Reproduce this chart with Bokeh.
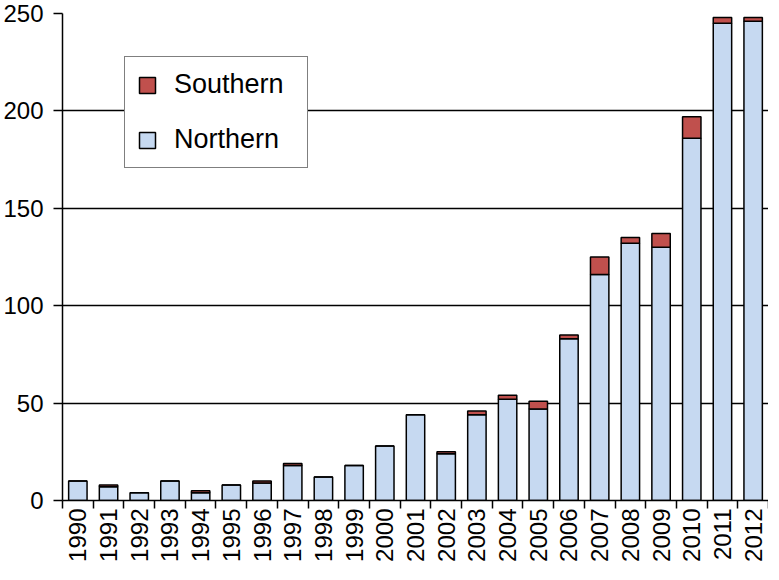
from bokeh.plotting import figure
from bokeh.models import (Range1d, FixedTicker, Legend, LegendItem, ColumnDataSource)
from bokeh.embed import file_html
from bokeh.resources import INLINE
import math

years = ["1990", "1991", "1992", "1993", "1994", "1995", "1996", "1997", "1998",
         "1999", "2000", "2001", "2002", "2003", "2004", "2005", "2006", "2007",
         "2008", "2009", "2010", "2011", "2012"]
northern = [10, 7, 4, 10, 4, 8, 9, 18, 12, 18, 28, 44, 24, 44, 52, 47, 83, 116,
            132, 130, 186, 245, 246]
southern = [0, 1, 0, 0, 1, 0, 1, 1, 0, 0, 0, 0, 1, 2, 2, 4, 2, 9,
            3, 7, 11, 3, 2]
y_ticks = [0, 50, 100, 150, 200, 250]

centers = [i + 0.5 for i in range(len(years))]
bounds = list(range(len(years) + 1))

src = ColumnDataSource(dict(x=centers, north=northern, south=southern))

FONT = "Liberation Sans"

p = figure(width=768, height=564, output_backend="svg", toolbar_location=None,
           x_range=Range1d(0, len(years)), y_range=Range1d(0, 250),
           min_border_left=52, min_border_right=0, min_border_top=13,
           min_border_bottom=10)
p.outline_line_color = None
p.background_fill_color = "white"

rs = p.vbar_stack(["north", "south"], x="x", width=0.6, source=src,
                  fill_color=["#C6D9F1", "#C0504D"], line_color="black",
                  line_width=1.5)

# axes
p.xaxis.ticker = FixedTicker(ticks=centers, minor_ticks=bounds)
p.xaxis.major_label_overrides = {c: y for c, y in zip(centers, years)}
p.xaxis.major_label_orientation = math.pi / 2
p.xaxis.major_tick_out = 0
p.xaxis.major_tick_in = 0
p.xaxis.minor_tick_out = 8
p.xaxis.minor_tick_in = 0
p.xaxis.minor_tick_line_color = "black"
p.xaxis.minor_tick_line_width = 1.5
p.xaxis.major_label_standoff = 0

p.yaxis.ticker = FixedTicker(ticks=y_ticks)
p.yaxis.major_tick_out = 9
p.yaxis.major_tick_in = 0
p.yaxis.minor_tick_line_color = None
p.yaxis.major_label_standoff = 10

for ax in (p.xaxis, p.yaxis):
    ax.axis_line_color = "black"
    ax.axis_line_width = 1.5
    ax.major_tick_line_color = "black"
    ax.major_tick_line_width = 1.5
    ax.major_label_text_font = FONT
    ax.major_label_text_font_size = "24px"
    ax.major_label_text_color = "black"

p.xgrid.grid_line_color = None
p.ygrid.ticker = FixedTicker(ticks=y_ticks)
p.ygrid.grid_line_color = "black"
p.ygrid.grid_line_width = 1.5

legend = Legend(items=[LegendItem(label="Southern", renderers=[rs[1]]),
                       LegendItem(label="Northern", renderers=[rs[0]])],
                location=(62, 332))
legend.label_text_font = FONT
legend.label_text_font_size = "27px"
legend.label_text_color = "black"
legend.glyph_width = 20
legend.glyph_height = 20
legend.label_standoff = 17
legend.label_width = 121
legend.spacing = 24
legend.padding = 12
legend.margin = 0
legend.border_line_color = "black"
legend.border_line_width = 1.5
legend.background_fill_alpha = 1.0
legend.background_fill_color = "white"
p.add_layout(legend, "center")

open("out.html", "w").write(file_html(p, INLINE))
